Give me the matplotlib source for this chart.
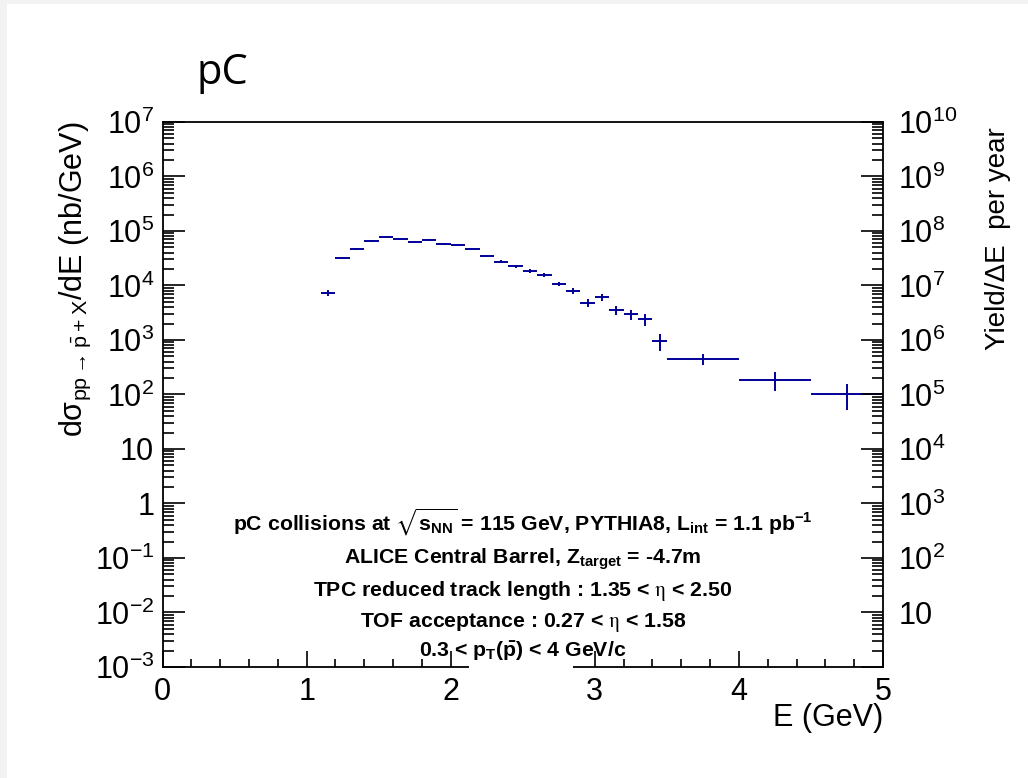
import math
import matplotlib
matplotlib.use("Agg")
import matplotlib.pyplot as plt
from matplotlib import font_manager
from matplotlib.patches import Rectangle
from matplotlib.ticker import LogLocator, MultipleLocator, FuncFormatter, NullFormatter
import matplotlib.transforms as mtransforms

# bin centres and half widths (GeV)
e_centres = [1.15, 1.25, 1.35, 1.45, 1.55, 1.65, 1.75, 1.85, 1.95, 2.05,
             2.15, 2.25, 2.35, 2.45, 2.55, 2.65, 2.75, 2.85, 2.95, 3.05,
             3.15, 3.25, 3.35, 3.45, 3.75, 4.25, 4.75]
e_halfwidth = [0.05, 0.05, 0.05, 0.05, 0.05, 0.05, 0.05, 0.05, 0.05, 0.05,
               0.05, 0.05, 0.05, 0.05, 0.05, 0.05, 0.05, 0.05, 0.05, 0.05,
               0.05, 0.05, 0.05, 0.05, 0.25, 0.25, 0.25]
# dsigma/dE (nb/GeV)
dsigma = [7300, 32400, 47500, 64700, 79000, 71800, 64000, 68700, 58700, 55600,
          46300, 34800, 27300, 22700, 18400, 15700, 10700, 8070, 4780, 6080,
          3550, 2990, 2410, 960, 453, 185, 104]
dsigma_err = [1020, 1620, 1900, 2260, 2370, 2150, 2240, 2400, 2350, 2220,
              2080, 1740, 1500, 1360, 1290, 1260, 1070, 970, 810, 910,
              710, 630, 580, 345, 104, 70, 52]

yield_factor = 1e3  # right axis = dsigma/dE * factor
y_min, y_max = 1e-3, 1e7

box_lines = [
    r'pC collisions at $\sqrt{\mathregular{s_{NN}}}$ = 115 GeV, PYTHIA8, $\mathregular{L_{int}}$ = 1.1 $\mathregular{pb^{-1}}$',
    r'ALICE Central Barrel, $\mathregular{Z_{target}}$ = -4.7m',
    r'TPC reduced track length : 1.35 < $\mathrm{\eta}$ < 2.50',
    r'TOF acceptance : 0.27 < $\mathrm{\eta}$ < 1.58',
    r'0.3 < $\mathregular{p_{T}(\bar{p})}$ < 4 GeV/c',
]

names = {f.name for f in font_manager.fontManager.ttflist}
box_font = 'Liberation Sans Narrow' if 'Liberation Sans Narrow' in names else 'Liberation Sans'

plt.rcParams['font.family'] = ['Liberation Sans', 'DejaVu Sans']
col = '#000099'

fig = plt.figure(figsize=(10.28, 7.78), dpi=100)
fig.add_artist(Rectangle((0, 0), 7/1028, 1, transform=fig.transFigure,
                         facecolor='#f2f2f2', edgecolor='none'))
fig.add_artist(Rectangle((0, 1 - 4/778), 1, 4/778, transform=fig.transFigure,
                         facecolor='#f2f2f2', edgecolor='none'))

ax = fig.add_axes([0.1581, 0.1427, 0.7009, 0.7005])
ax.errorbar(e_centres, dsigma, xerr=e_halfwidth, yerr=dsigma_err, fmt='none',
            ecolor=col, elinewidth=1.4, capsize=0)
ax.set_yscale('log')
ax.set_xlim(0, 5)
ax.set_ylim(y_min, y_max)

for s in ax.spines.values():
    s.set_linewidth(1.3)


def left_fmt(v, pos):
    n = int(round(math.log10(v)))
    if n == 0:
        return '1'
    if n == 1:
        return '10'
    return r'$\mathdefault{10^{%d}}$' % n


def right_fmt(v, pos):
    n = int(round(math.log10(v)))
    if n == 0:
        return ''
    if n == 1:
        return '10'
    return r'$\mathdefault{10^{%d}}$' % n


ax.yaxis.set_major_locator(LogLocator(base=10, numticks=20))
ax.yaxis.set_minor_locator(LogLocator(base=10, subs=range(2, 10), numticks=20))
ax.yaxis.set_major_formatter(FuncFormatter(left_fmt))
ax.yaxis.set_minor_formatter(NullFormatter())
ax.xaxis.set_major_locator(MultipleLocator(1))
ax.xaxis.set_minor_locator(MultipleLocator(0.2))

ax.tick_params(axis='x', which='both', direction='in', top=False, labelsize=22, pad=7, width=1.2)
ax.tick_params(axis='x', which='major', length=11.5)
ax.tick_params(axis='x', which='minor', length=5.8)
ax.tick_params(axis='y', which='both', direction='in', right=False, labelsize=22, pad=6, width=1.2)
ax.tick_params(axis='y', which='major', length=15.5)
ax.tick_params(axis='y', which='minor', length=7.8)

ax2 = ax.twinx()
ax2.set_yscale('log')
ax2.set_ylim(y_min * yield_factor, y_max * yield_factor)
for k in ['top', 'bottom', 'left', 'right']:
    ax2.spines[k].set_visible(False)
ax2.yaxis.set_major_locator(LogLocator(base=10, numticks=20))
ax2.yaxis.set_minor_locator(LogLocator(base=10, subs=range(2, 10), numticks=20))
ax2.yaxis.set_major_formatter(FuncFormatter(right_fmt))
ax2.yaxis.set_minor_formatter(NullFormatter())
ax2.tick_params(axis='y', which='both', direction='in', labelsize=22, pad=11, width=1.2)
ax2.tick_params(axis='y', which='major', length=15.5)
ax2.tick_params(axis='y', which='minor', length=7.8)

ax.set_ylabel(r'd$\mathregular{\sigma_{pp \rightarrow \bar{p}+X}}$/dE (nb/GeV)', fontsize=22, loc='top')
ax.yaxis.label.set_va('center')
ax.yaxis.set_label_coords(-0.121, 1.0)
ax2.set_ylabel('Yield/\u0394E  per year', fontsize=20, loc='top')
ax2.yaxis.label.set_va('center')
ax2.yaxis.set_label_coords(1.159, 0.991)
ax.set_xlabel('E (GeV)', fontsize=22, loc='right')
ax.xaxis.label.set_va('center')
ax.xaxis.set_label_coords(1.0, -0.0936)

# white box of the text pave hides part of the bottom frame
trans = mtransforms.blended_transform_factory(ax.transData, ax.transAxes)
ax.add_patch(Rectangle((2.13, -0.005), 0.72, 0.022, transform=trans,
                       facecolor='white', edgecolor='none', zorder=2.6, clip_on=False))

box_y = [0.251, 0.189, 0.130, 0.073, 0.018]
for txt, yy in zip(box_lines, box_y):
    ax.text(0.5, yy, txt, transform=ax.transAxes, ha='center', va='baseline',
            fontsize=15.3, fontweight='bold', family=box_font, math_fontfamily='stix',
            zorder=3)

fig.text(196/1028, 1 - 84/778, 'pC', fontsize=30, family='Open Sans', ha='left', va='baseline')

fig.savefig('out.png', dpi=100)
